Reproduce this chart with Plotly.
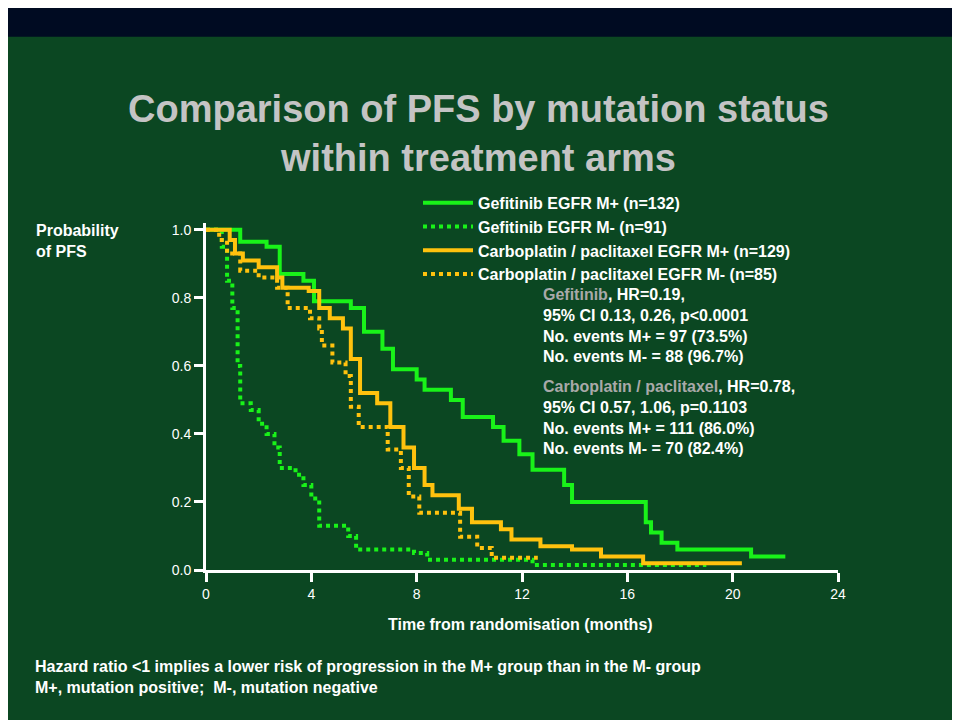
import plotly.graph_objects as go

# Kaplan-Meier step points (months, survival probability)
gef_pos_t = [0, 1.3, 2.3, 2.8, 3.7, 4.1, 5.5, 6.0, 6.7, 7.1, 8.0, 8.3, 9.3, 9.75, 10.9, 11.3, 11.9,
             12.4, 13.6, 13.9, 16.7, 16.9, 17.3, 17.9, 20.7, 22]
gef_pos_s = [1, 0.965, 0.95, 0.87, 0.85, 0.79, 0.77, 0.70, 0.65, 0.59, 0.56, 0.53, 0.50, 0.45, 0.42, 0.38, 0.34,
             0.295, 0.25, 0.20, 0.14, 0.11, 0.08, 0.06, 0.04, 0.04]

gef_neg_t = [0, 0.6, 0.8, 1.0, 1.2, 1.3, 1.7, 2.0, 2.3, 2.6, 2.8, 3.4, 3.7, 4.0, 4.3, 5.4, 5.7, 7.9, 8.4, 12.4, 19.0]
gef_neg_s = [1, 0.95, 0.85, 0.77, 0.6, 0.49, 0.47, 0.43, 0.40, 0.36, 0.30, 0.28, 0.25, 0.21, 0.13, 0.10, 0.06,
             0.05, 0.03, 0.015, 0.015]

carb_pos_t = [0, 0.9, 1.1, 1.4, 2.0, 2.7, 2.9, 3.9, 4.3, 4.7, 5.2, 5.5, 5.85, 6.5, 7.0, 7.5, 7.9, 8.3, 8.6, 9.6,
              10.1, 11.2, 11.6, 12.7, 13.9, 15.0, 16.6, 20.35]
carb_pos_s = [1, 0.97, 0.93, 0.91, 0.89, 0.86, 0.83, 0.82, 0.77, 0.74, 0.71, 0.62, 0.52, 0.49, 0.42, 0.36, 0.30,
              0.25, 0.22, 0.18, 0.14, 0.12, 0.09, 0.07, 0.06, 0.04, 0.02, 0.02]

carb_neg_t = [0, 0.5, 0.8, 1.3, 2.0, 2.7, 3.1, 3.95, 4.3, 4.4, 4.8, 5.3, 5.5, 5.8, 6.9, 7.4, 7.7, 8.1, 9.65,
              10.3, 10.85, 12.6]
carb_neg_s = [1, 0.97, 0.93, 0.88, 0.86, 0.83, 0.77, 0.74, 0.71, 0.66, 0.61, 0.57, 0.48, 0.42, 0.354, 0.30,
              0.216, 0.168, 0.098, 0.065, 0.036, 0.036]

GREEN = '#19f219'
YELLOW = '#ffc20e'
BG = '#0b4722'
FONT = 'Liberation Sans, Arial'

fig = go.Figure()

series = [
    (gef_pos_t, gef_pos_s, 'Gefitinib EGFR M+ (n=132)', GREEN, 'solid'),
    (gef_neg_t, gef_neg_s, 'Gefitinib EGFR M- (n=91)', GREEN, 'dot'),
    (carb_pos_t, carb_pos_s, 'Carboplatin / paclitaxel EGFR M+ (n=129)', YELLOW, 'solid'),
    (carb_neg_t, carb_neg_s, 'Carboplatin / paclitaxel EGFR M- (n=85)', YELLOW, 'dot'),
]
for t, s, name, color, dash in series:
    fig.add_trace(go.Scatter(
        x=t, y=s, name=f'<b>{name}</b>', mode='lines',
        line=dict(color=color, width=4, dash=dash, shape='hv'),
        cliponaxis=False
    ))


def py(px):
    # reference pixel row -> paper y
    return (570 - px) / 346.8


def px_x(px):
    return (px - 206) / 632


fig.add_shape(type='rect', xref='paper', yref='paper', x0=-0.4, x1=1.3,
              y0=py(37), y1=py(-20), fillcolor='#000b22', line=dict(width=0), layer='below')
fig.add_shape(type='line', xref='paper', yref='paper', x0=px_x(958), x1=px_x(958),
              y0=py(40), y1=py(730), line=dict(color='#cfd8cf', width=2))

bold = dict(color='white', size=16, family=FONT)

fig.add_annotation(xref='paper', yref='paper', x=px_x(478), y=py(134), xanchor='center', yanchor='middle',
                   text='<b>Comparison of PFS by mutation status<br>within treatment arms</b>',
                   showarrow=False, font=dict(color='#c4c4c4', size=38, family=FONT),
                   align='center')

fig.add_annotation(xref='paper', yref='paper', x=px_x(34), y=py(220), xanchor='left', yanchor='top',
                   text='<b>Probability<br>of PFS</b>', showarrow=False, font=bold, align='left')

fig.add_annotation(xref='paper', yref='paper', x=px_x(520), y=py(624), xanchor='center', yanchor='middle',
                   text='<b>Time from randomisation (months)</b>', showarrow=False, font=bold)

fig.add_annotation(xref='paper', yref='paper', x=px_x(33), y=py(656), xanchor='left', yanchor='top',
                   text='<b>Hazard ratio <1 implies a lower risk of progression in the M+ group than in the M- group'
                        '<br>M+, mutation positive;  M-, mutation negative</b>',
                   showarrow=False, font=bold, align='left')

grey = '#a9a9a9'
fig.add_annotation(xref='paper', yref='paper', x=px_x(541), y=py(284),
                   xanchor='left', yanchor='top', align='left', showarrow=False, font=bold,
                   text=f'<b><span style="color:{grey}">Gefitinib</span>, HR=0.19,<br>'
                        '95% CI 0.13, 0.26, p<0.0001<br>'
                        'No. events M+ = 97 (73.5%)<br>'
                        'No. events M- = 88 (96.7%)</b>')
fig.add_annotation(xref='paper', yref='paper', x=px_x(541), y=py(376),
                   xanchor='left', yanchor='top', align='left', showarrow=False, font=bold,
                   text=f'<b><span style="color:{grey}">Carboplatin / paclitaxel</span>, HR=0.78,<br>'
                        '95% CI 0.57, 1.06, p=0.1103<br>'
                        'No. events M+ = 111 (86.0%)<br>'
                        'No. events M- = 70 (82.4%)</b>')

# the page body adds an 8px offset, so margins are shifted to compensate
fig.update_layout(
    width=960, height=720,
    margin=dict(l=198, r=130, t=215, b=158),
    paper_bgcolor=BG, plot_bgcolor=BG,
    showlegend=True,
    legend=dict(x=px_x(418), y=py(186), xanchor='left', yanchor='top',
                bgcolor='rgba(0,0,0,0)', font=dict(color='white', size=16, family=FONT),
                itemwidth=50, tracegroupgap=0),
    xaxis=dict(range=[0, 24], tickvals=[0, 4, 8, 12, 16, 20, 24], showgrid=False, zeroline=False,
               showline=True, linecolor='white', linewidth=3, ticks='outside', tickcolor='white',
               tickwidth=3, ticklen=9, tickfont=dict(color='white', size=14, family=FONT),
               tickprefix='<b>', ticksuffix='</b>'),
    yaxis=dict(range=[0, 1.02], tickvals=[0, 0.2, 0.4, 0.6, 0.8, 1.0], tickformat='.1f', showgrid=False,
               zeroline=False, showline=True, linecolor='white', linewidth=3, ticks='outside',
               tickcolor='white', tickwidth=3, ticklen=9,
               tickfont=dict(color='white', size=14, family=FONT),
               tickprefix='<b>', ticksuffix='</b>'),
)

fig.write_html('out.html')
